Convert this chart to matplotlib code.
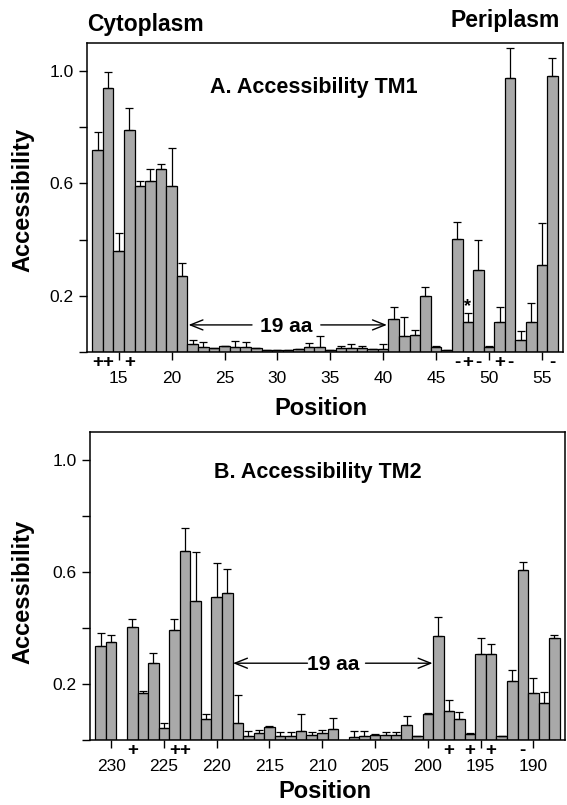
import matplotlib
matplotlib.use("Agg")
import matplotlib.pyplot as plt
import numpy as np

plt.rcParams["font.family"] = ["Liberation Sans", "DejaVu Sans"]

# DATOS TM1 (panel A)
tm1_pos = list(range(13, 57))
tm1_acc = [0.72, 0.94, 0.36, 0.79, 0.59, 0.61, 0.65, 0.59, 0.27,
           0.027, 0.019, 0.015, 0.02, 0.019, 0.019, 0.013, 0.007, 0.007, 0.007,
           0.012, 0.017, 0.019, 0.007, 0.015, 0.015, 0.013, 0.011, 0.011,
           0.118, 0.057, 0.061, 0.201, 0.019, 0.008, 0.401, 0.108, 0.292,
           0.019, 0.107, 0.976, 0.043, 0.107, 0.311, 0.981]
tm1_err = [0.064, 0.056, 0.063, 0.08, 0.02, 0.04, 0.02, 0.137, 0.047,
           0.016, 0.017, 0.0, 0.003, 0.021, 0.018, 0.0, 0.0, 0.0, 0.0,
           0.0, 0.014, 0.038, 0.0, 0.008, 0.014, 0.008, 0.0, 0.018,
           0.042, 0.066, 0.018, 0.031, 0.003, 0.0, 0.063, 0.03, 0.107,
           0.003, 0.054, 0.105, 0.032, 0.069, 0.15, 0.064]
tm1_sign_pos = [13, 14, 16, 47, 48, 49, 51, 52, 56]
tm1_sign = ["+", "+", "+", "-", "+", "-", "+", "-", "-"]

# DATOS TM2 (panel B)
tm2_pos = [231, 230, 228, 227, 226, 225, 224, 223, 222, 221, 220, 219, 218,
           217, 216, 215, 214, 213, 212, 211, 210, 209, 207, 206, 205, 204,
           203, 202, 201, 200, 199, 198, 197, 196, 195, 194, 193, 192, 191,
           190, 189, 188]
tm2_acc = [0.336, 0.351, 0.402, 0.169, 0.274, 0.044, 0.394, 0.673, 0.496,
           0.074, 0.512, 0.524, 0.06, 0.014, 0.024, 0.048, 0.015, 0.014,
           0.033, 0.018, 0.024, 0.039, 0.012, 0.014, 0.018, 0.018, 0.018,
           0.054, 0.014, 0.092, 0.371, 0.104, 0.075, 0.02, 0.307, 0.307,
           0.014, 0.212, 0.607, 0.169, 0.133, 0.363]
tm2_err = [0.044, 0.023, 0.029, 0.007, 0.038, 0.016, 0.037, 0.082, 0.173,
           0.018, 0.119, 0.087, 0.10, 0.018, 0.01, 0.002, 0.015, 0.013,
           0.06, 0.012, 0.011, 0.038, 0.021, 0.019, 0.003, 0.012, 0.012,
           0.033, 0.0, 0.006, 0.067, 0.039, 0.026, 0.004, 0.058, 0.035,
           0.0, 0.036, 0.027, 0.051, 0.04, 0.011]
tm2_sign_pos = [228, 224, 223, 198, 196, 194, 191]
tm2_sign = ["+", "+", "+", "+", "+", "+", "-"]

ytick_vals = [0.0, 0.2, 0.4, 0.6, 0.8, 1.0]
ytick_text = ["", "0.2", "", "0.6", "", "1.0"]

fig = plt.figure(figsize=(5.67, 8.05), dpi=100)
ax_a = fig.add_axes([87 / 567, 1 - 352 / 805, 476 / 567, 309 / 805])
ax_b = fig.add_axes([90 / 567, 1 - 740 / 805, 475 / 567, 308.3 / 805])


def panel(ax, pos, acc, err, xlim, xticks):
    ax.bar(pos, acc, width=1.0, color="#a9a9a9", edgecolor="black", linewidth=0.9)
    ax.errorbar(pos, acc, yerr=[np.zeros(len(err)), err], fmt="none",
                ecolor="black", elinewidth=0.9, capsize=3.2, capthick=0.9)
    ax.set_xlim(*xlim)
    ax.set_ylim(0, 1.1)
    ax.set_yticks(ytick_vals)
    ax.set_yticklabels(ytick_text)
    ax.set_xticks(xticks)
    ax.tick_params(axis="both", direction="out", length=5.5, width=1, labelsize=12.5)
    ax.tick_params(axis="x", pad=8)
    ax.tick_params(axis="y", pad=4)
    for s in ax.spines.values():
        s.set_linewidth(1.1)


panel(ax_a, tm1_pos, tm1_acc, tm1_err, (12, 57), [15, 20, 25, 30, 35, 40, 45, 50, 55])
panel(ax_b, tm2_pos, tm2_acc, tm2_err, (232, 187), [230, 225, 220, 215, 210, 205, 200, 195, 190])

# signos de carga
for p, s in zip(tm1_sign_pos, tm1_sign):
    ax_a.text(p, -0.039, s, ha="center", va="center", fontsize=13.5,
              fontweight="bold", clip_on=False)
for p, s in zip(tm2_sign_pos, tm2_sign):
    ax_b.text(p, -0.036, s, ha="center", va="center", fontsize=13.5,
              fontweight="bold", clip_on=False)

# asterisco sobre la posicion 48
ax_a.text(48, 0.16, "*", ha="center", va="center", fontsize=13, fontweight="bold")

# titulos de panel
ax_a.text(33.4, 0.9225, "A. Accessibility TM1", ha="center", va="baseline",
          fontsize=15.5, fontweight="bold")
ax_b.text(210.45, 0.9346, "B. Accessibility TM2", ha="center", va="baseline",
          fontsize=15.5, fontweight="bold")

# flechas 19 aa
flecha = dict(arrowstyle="->, head_length=0.45, head_width=0.18",
              lw=1.0, color="black", mutation_scale=20, shrinkA=0, shrinkB=0)
ax_a.text(30.85, 0.0725, "19 aa", ha="center", va="baseline", fontsize=15, fontweight="bold")
ax_a.annotate("", xy=(21.6, 0.0964), xytext=(27.6, 0.0964), arrowprops=flecha)
ax_a.annotate("", xy=(40.35, 0.0964), xytext=(34.1, 0.0964), arrowprops=flecha)

ax_b.text(209.0, 0.25, "19 aa", ha="center", va="baseline", fontsize=15, fontweight="bold")
ax_b.annotate("", xy=(218.45, 0.274), xytext=(211.4, 0.274), arrowprops=flecha)
ax_b.annotate("", xy=(199.55, 0.274), xytext=(205.9, 0.274), arrowprops=flecha)

# etiquetas de ejes
fig.text(23 / 567, 1 - 200 / 805, "Accessibility", rotation=90, ha="center", va="center",
         fontsize=17, fontweight="bold")
fig.text(23 / 567, 1 - 592 / 805, "Accessibility", rotation=90, ha="center", va="center",
         fontsize=17, fontweight="bold")
fig.text(321 / 567, 1 - 415 / 805, "Position", ha="center", va="baseline",
         fontsize=17, fontweight="bold")
fig.text(325 / 567, 1 - 798 / 805, "Position", ha="center", va="baseline",
         fontsize=17, fontweight="bold")
fig.text(87 / 567, 1 - 31 / 805, "Cytoplasm", ha="left", va="baseline",
         fontsize=16.5, fontweight="bold")
fig.text(451 / 567, 1 - 27 / 805, "Periplasm", ha="left", va="baseline",
         fontsize=16.5, fontweight="bold")

fig.savefig("out.png", dpi=100)
